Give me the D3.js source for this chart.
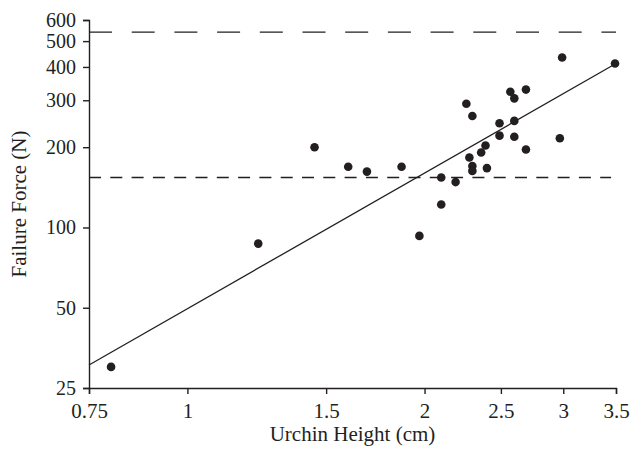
<!DOCTYPE html>
<html>
<head>
<meta charset="utf-8">
<script src="https://cdn.jsdelivr.net/npm/d3@7"></script>
<style>
  body { margin: 0; background: #fff; }
  text { font-family: "Liberation Serif", "Times New Roman", serif; fill: #231f20; }
</style>
</head>
<body>
<script>
let w = 630;
let h = 452;

// urchin height (cm) and failure force (N)
let heights = [0.80, 1.23, 1.45, 1.60, 1.69, 1.87, 1.97, 2.10, 2.10, 2.19,
               2.26, 2.30, 2.28, 2.30, 2.30, 2.36, 2.39, 2.40, 2.49, 2.49,
               2.57, 2.60, 2.60, 2.60, 2.69, 2.69, 2.99, 2.97, 3.49];
let forces = [30, 87, 200, 169, 162, 169, 93, 154, 122, 148,
              291, 262, 183, 170, 163, 191, 203, 167, 246, 221,
              323, 305, 251, 219, 329, 196, 434, 216, 412];

// power fit F = a * H^b
let fitA = 49.6;
let fitB = 1.69;

// reference force levels (N)
let upperLevel = 540;
let lowerLevel = 154;

let xTicks = [0.75, 1, 1.5, 2, 2.5, 3, 3.5];
let yTicks = [25, 50, 100, 200, 300, 400, 500, 600];

let dataset = heights.map((d, i) => [d, forces[i]]);

let padL = 89, padR = 616, padT = 20, padB = 388;

let xScale = d3.scaleLog()
  .domain([0.75, 3.5])
  .range([padL, padR]);

let yScale = d3.scaleLog()
  .domain([25, 600])
  .range([padB, padT]);

let xAxis = d3.axisBottom(xScale)
  .tickValues(xTicks)
  .tickFormat((d) => String(d))
  .tickSizeOuter(0)
  .tickSize(6)
  .tickPadding(9);

let yAxis = d3.axisLeft(yScale)
  .tickValues(yTicks)
  .tickFormat((d) => String(d))
  .tickSizeOuter(0)
  .tickSize(6)
  .tickPadding(7);

let svg = d3.select("body")
  .append("svg")
  .attr("width", w)
  .attr("height", h);

// dashed reference lines
svg.append("line")
  .attr("x1", xScale(0.75)).attr("x2", xScale(3.5))
  .attr("y1", yScale(upperLevel)).attr("y2", yScale(upperLevel))
  .attr("stroke", "#231f20")
  .attr("stroke-width", 1.3)
  .attr("stroke-dasharray", "23,19.7");

svg.append("line")
  .attr("x1", xScale(0.75)).attr("x2", xScale(3.45))
  .attr("y1", yScale(lowerLevel)).attr("y2", yScale(lowerLevel))
  .attr("stroke", "#231f20")
  .attr("stroke-width", 1.3)
  .attr("stroke-dasharray", "12,9.3");

// fitted line
let fitLine = d3.line()
  .x((d) => xScale(d))
  .y((d) => yScale(fitA * Math.pow(d, fitB)));

svg.append("path")
  .datum(xScale.domain())
  .attr("d", fitLine)
  .attr("fill", "none")
  .attr("stroke", "#231f20")
  .attr("stroke-width", 1.3);

svg.append("g")
  .selectAll("circle")
  .data(dataset)
  .enter()
  .append("circle")
  .attr("cx", (d) => xScale(d[0]))
  .attr("cy", (d) => yScale(d[1]))
  .attr("r", 4.3)
  .attr("fill", "#231f20");

let gx = svg.append("g")
  .attr("transform", "translate(0," + padB + ")")
  .call(xAxis);

let gy = svg.append("g")
  .attr("transform", "translate(" + padL + ",0)")
  .call(yAxis);

[gx, gy].forEach((g) => {
  g.selectAll("path, line").attr("stroke", "#231f20").attr("stroke-width", 1.4);
  g.selectAll("text").attr("font-family", "Liberation Serif").attr("fill", "#231f20");
});
gx.selectAll("text").attr("font-size", 21);
gy.selectAll("text").attr("font-size", 20);

svg.append("text")
  .attr("x", (padL + padR) / 2)
  .attr("y", 441)
  .attr("text-anchor", "middle")
  .attr("font-size", 21)
  .text("Urchin Height (cm)");

svg.append("text")
  .attr("transform", "translate(26," + 204 + ") rotate(-90)")
  .attr("text-anchor", "middle")
  .attr("font-size", 21)
  .text("Failure Force (N)");
</script>
</body>
</html>
